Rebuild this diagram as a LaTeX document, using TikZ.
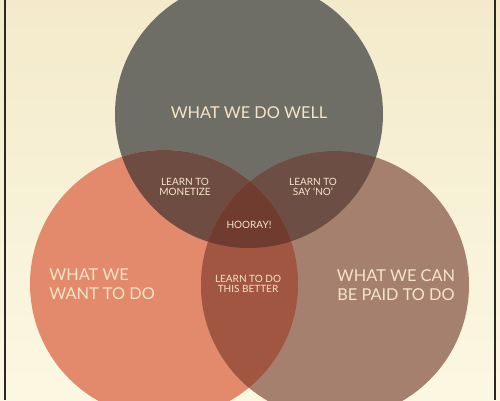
\documentclass[tikz,border=0pt]{standalone}
\usepackage{fontspec}
\setmainfont{Lato}
\usetikzlibrary{calc}

\begin{document}
\begin{tikzpicture}[x=0.02cm, y=-0.02cm,
    vennText/.style={text=textColour, align=center, inner sep=0pt},
    bigText/.style={vennText, font=\fontsize{9.3}{10.9}\selectfont},
    smallText/.style={vennText, font=\fontsize{5.7}{5.9}\selectfont}]
    % Define colours
    \definecolor{bgTop}{HTML}{F4EACB}
    \definecolor{bgBottom}{HTML}{FBF8E2}
    \definecolor{borderColour}{HTML}{2A2822}
    \definecolor{textColour}{HTML}{F5E4C8}
    \definecolor{wellFill}{HTML}{6E6E66}
    \definecolor{wantFill}{HTML}{E48A6C}
    \definecolor{paidFill}{HTML}{A6806E}
    \definecolor{wellWantFill}{HTML}{6E4C42}
    \definecolor{wellPaidFill}{HTML}{6C4E44}
    \definecolor{wantPaidFill}{HTML}{A05640}
    \definecolor{allFill}{HTML}{703C30}

    % Define circle radius
    \def\circleRadius{134}

    % Background and frame
    \useasboundingbox (0,0) rectangle (500,400);
    \shade[top color=bgTop, bottom color=bgBottom] (0,0) rectangle (500,400);
    \draw[borderColour, line width=0.7pt] (5,0) -- (5,400);
    \draw[borderColour, line width=0.7pt] (495,0) -- (495,400);

    % Define the centres of the circles
    \coordinate (wellC) at (249,114);
    \coordinate (wantC) at (164,284);
    \coordinate (paidC) at (335,285);

    % Draw the circles
    \fill[wellFill] (wellC) circle (\circleRadius);
    \fill[wantFill] (wantC) circle (\circleRadius);
    \fill[paidFill] (paidC) circle (\circleRadius);

    % Draw the overlaps of two circles
    \begin{scope}
        \clip (wellC) circle (\circleRadius);
        \fill[wellWantFill] (wantC) circle (\circleRadius);
        \fill[wellPaidFill] (paidC) circle (\circleRadius);
    \end{scope}
    \begin{scope}
        \clip (wantC) circle (\circleRadius);
        \fill[wantPaidFill] (paidC) circle (\circleRadius);
    \end{scope}

    % Draw the overlap of all three circles
    \begin{scope}
        \clip (wellC) circle (\circleRadius);
        \clip (wantC) circle (\circleRadius);
        \fill[allFill] (paidC) circle (\circleRadius);
    \end{scope}

    % Label the circles
    \node[bigText] (well) at (249,113) {WHAT WE DO WELL};
    \node[bigText, align=left, anchor=west] (want) at (49,284) {WHAT WE\\WANT TO DO};
    \node[bigText] (paid) at (396,285) {WHAT WE CAN\\BE PAID TO DO};

    % Label the overlaps
    \node[smallText] (monetize) at (185,187) {LEARN TO\\MONETIZE};
    \node[smallText] (sayNo) at (313,187) {LEARN TO\\SAY `NO'};
    \node[smallText] (hooray) at (249,225) {HOORAY!};
    \node[smallText] (better) at (248,284) {LEARN TO DO\\THIS BETTER};

\end{tikzpicture}
\end{document}
